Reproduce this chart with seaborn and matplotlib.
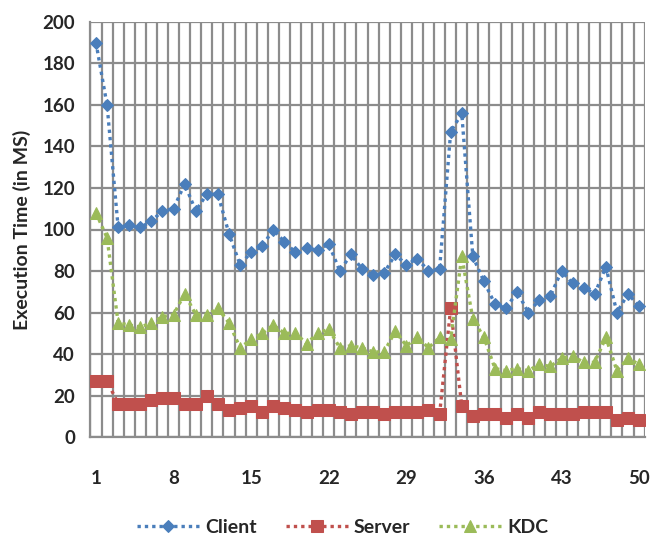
import numpy as np
import pandas as pd
import matplotlib
matplotlib.use("Agg")
import matplotlib.pyplot as plt
import seaborn as sns

runs = list(range(1, 51))
client = [190, 160, 101, 102, 101, 104, 109, 110, 122, 109,
          117, 117, 98, 83, 89, 92, 100, 94, 89, 91,
          90, 93, 80, 88, 81, 78, 79, 88, 83, 86,
          80, 81, 147, 156, 87, 75, 64, 62, 70, 60,
          66, 68, 80, 74, 72, 69, 82, 60, 69, 63]
server = [27, 27, 16, 16, 16, 18, 19, 19, 16, 16,
          20, 16, 13, 14, 15, 12, 15, 14, 13, 12,
          13, 13, 12, 11, 12, 12, 11, 12, 12, 12,
          13, 11, 62, 15, 10, 11, 11, 9, 11, 9,
          12, 11, 11, 11, 12, 12, 12, 8, 9, 8]
kdc = [108, 96, 55, 54, 53, 55, 58, 59, 69, 59,
       59, 62, 55, 43, 47, 50, 54, 50, 50, 45,
       50, 52, 43, 44, 43, 41, 41, 51, 44, 48,
       43, 48, 47, 87, 57, 48, 33, 32, 33, 32,
       35, 34, 38, 39, 36, 36, 48, 32, 38, 35]
series_names = ["Client", "Server", "KDC"]
yticks = list(range(0, 201, 20))
xtick_runs = [1, 8, 15, 22, 29, 36, 43, 50]

sns.set_style("white")
plt.rcParams["font.family"] = ["Lato", "DejaVu Sans"]

df = pd.DataFrame({"Run": runs, "Client": client, "Server": server, "KDC": kdc})
long = df.melt(id_vars="Run", var_name="Series", value_name="Time")

fig = plt.figure(figsize=(6.52, 5.40), dpi=100)
ax = fig.add_axes([0.1387, 0.1907, 0.850, 0.7686])

styles = {
    "Client": dict(color="#4A7EBB", marker="D", ms=6.5),
    "Server": dict(color="#C0504D", marker="s", ms=8),
    "KDC": dict(color="#9BBB59", marker="^", ms=8),
}
for name in series_names:
    st = styles[name]
    sns.lineplot(data=long[long["Series"] == name], x="Run", y="Time", ax=ax,
                 color=st["color"], marker=st["marker"], markersize=st["ms"],
                 markeredgecolor=st["color"], linestyle=(0, (1, 1.2)),
                 linewidth=2.4, label=name, zorder=3)

ax.set_xlim(0.5, 50.5)
ax.set_ylim(0, 200)
ax.set_yticks(yticks)
ax.set_xticks(xtick_runs)
ax.set_xticks(np.arange(0.5, 51, 1), minor=True)

grid_c = "#8C8C8C"
ax.grid(True, axis="y", which="major", color=grid_c, linewidth=1.6)
ax.grid(True, axis="x", which="minor", color=grid_c, linewidth=1.6)
ax.grid(False, axis="x", which="major")
ax.set_axisbelow(True)

for s in ["top", "right"]:
    ax.spines[s].set_visible(False)
ax.spines["left"].set_color(grid_c)
ax.spines["left"].set_linewidth(1.6)
ax.spines["bottom"].set_color(grid_c)
ax.spines["bottom"].set_linewidth(1.6)

ax.tick_params(axis="x", which="major", length=0, pad=24, labelsize=13.5)
ax.tick_params(axis="x", which="minor", length=6, width=1.2, color=grid_c, direction="out")
ax.tick_params(axis="y", which="major", length=5, width=1.2, color=grid_c, labelsize=13.5, pad=6)
for lbl in ax.get_xticklabels() + ax.get_yticklabels():
    lbl.set_fontweight("bold")

ax.set_xlabel("")
ax.set_ylabel("Execution Time (in MS)", fontsize=14, fontweight="bold", labelpad=8)

ax.legend(loc="upper center", bbox_to_anchor=(0.455, -0.155), ncol=3, frameon=False,
          handlelength=3.2, columnspacing=1.5, handletextpad=0.3,
          prop=dict(size=14, weight="bold"))

fig.savefig("out.png", dpi=100)
